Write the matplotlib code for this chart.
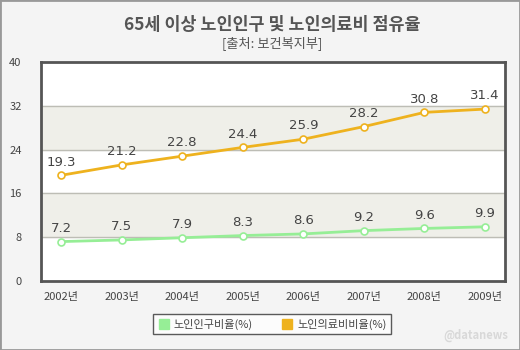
import matplotlib.pyplot as plt
from matplotlib.patches import Rectangle

plt.rcParams['font.family'] = ['Noto Sans CJK KR', 'DejaVu Sans']

years = ['2002년', '2003년', '2004년', '2005년', '2006년', '2007년', '2008년', '2009년']
elderly_pop = [7.2, 7.5, 7.9, 8.3, 8.6, 9.2, 9.6, 9.9]
elderly_med = [19.3, 21.2, 22.8, 24.4, 25.9, 28.2, 30.8, 31.4]
y_ticks = [0, 8, 16, 24, 32, 40]

GREEN = '#96ee96'
ORANGE = '#eeb21e'

fig = plt.figure(figsize=(5.2, 3.5), dpi=100, facecolor='#f4f4f4')
# outer border
fig.patches.append(Rectangle((0, 0), 1, 1, transform=fig.transFigure,
                             fill=False, edgecolor='#999999', linewidth=2))

ax = fig.add_axes([41/520, 1 - 281/350, 464/520, 219/350])
ax.set_facecolor('white')
ax.set_ylim(0, 40)
ax.set_xlim(-0.33, 7.33)

# alternating bands
for lo, hi in [(8, 16), (24, 32)]:
    ax.axhspan(lo, hi, color='#efefe9', zorder=0)
for y in y_ticks[1:-1]:
    ax.axhline(y, color='#bdbdb5', linewidth=1, zorder=1)

x = range(len(years))
ax.plot(x, elderly_med, color=ORANGE, linewidth=2, marker='o', markersize=5,
        markerfacecolor='white', markeredgecolor=ORANGE, markeredgewidth=1.2, zorder=3)
ax.plot(x, elderly_pop, color=GREEN, linewidth=2, marker='o', markersize=5,
        markerfacecolor='white', markeredgecolor=GREEN, markeredgewidth=1.2, zorder=3)

for i in x:
    ax.annotate(f'{elderly_med[i]}', (i, elderly_med[i]), textcoords='offset points',
                xytext=(0, 7), ha='center', fontsize=9.5, color='#444444',
                family=['DejaVu Sans'])
    ax.annotate(f'{elderly_pop[i]}', (i, elderly_pop[i]), textcoords='offset points',
                xytext=(0, 7), ha='center', fontsize=9.5, color='#444444',
                family=['DejaVu Sans'])

ax.set_yticks(y_ticks)
ax.set_xticks(list(x))
ax.set_xticklabels(years)
ax.tick_params(length=0, labelsize=8, colors='#444444', pad=8)
ax.tick_params(axis='y', pad=14)
for s in ax.spines.values():
    s.set_color('#555555')
    s.set_linewidth(2)

fig.text(272/520, 1 - 25/350, '65세 이상 노인인구 및 노인의료비 점유율', ha='center', va='center',
         fontsize=12.5, fontweight='bold', color='#555555')
fig.text(272/520, 1 - 43/350, '[출처: 보건복지부]', ha='center', va='center',
         fontsize=9.5, color='#555555')

handles = [
    plt.Line2D([], [], linestyle='none', marker='s', markersize=7, color=GREEN),
    plt.Line2D([], [], linestyle='none', marker='s', markersize=7, color=ORANGE)]
leg = ax.legend(handles=handles, labels=['노인인구비율(%)', '노인의료비비율(%)'],
                loc='center', bbox_to_anchor=(272/520, 1 - 324/350),
                bbox_transform=fig.transFigure, ncol=2, fontsize=8, frameon=True,
                fancybox=False, handletextpad=0.3, handlelength=1.2,
                columnspacing=2.5, borderpad=0.4)
leg.get_frame().set_edgecolor('#333333')
leg.get_frame().set_facecolor('white')
for t in leg.get_texts():
    t.set_color('#444444')

fig.text(1 - 12/520, 1 - 335/350, '@datanews', ha='right', va='center',
         fontsize=8, color='#d8d8d8', fontweight='bold')

fig.savefig('out.png', dpi=100, facecolor=fig.get_facecolor())
